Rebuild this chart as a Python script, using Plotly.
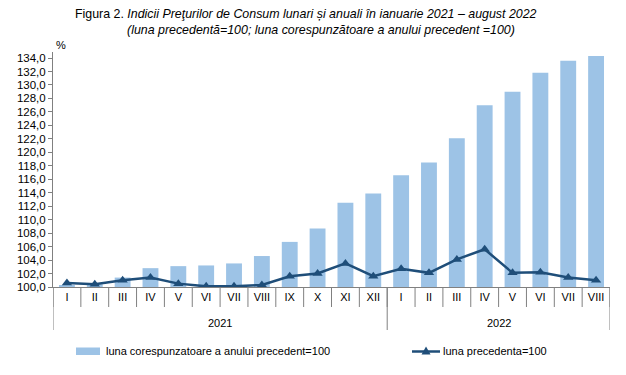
import plotly.graph_objects as go

months = ["I", "II", "III", "IV", "V", "VI", "VII", "VIII", "IX", "X", "XI", "XII",
          "I", "II", "III", "IV", "V", "VI", "VII", "VIII"]
years = ["2021", "2022"]
year_counts = [12, 8]
annual = [100.3, 100.4, 101.4, 102.8, 103.1, 103.2, 103.5, 104.6, 106.7, 108.7, 112.5, 113.9,
          116.6, 118.5, 122.1, 127.0, 129.0, 131.8, 133.6, 134.3]
monthly = [100.6, 100.4, 101.0, 101.4, 100.5, 100.1, 100.1, 100.3, 101.6, 102.0, 103.5, 101.6,
           102.7, 102.1, 104.1, 105.6, 102.1, 102.2, 101.4, 101.0]
y_ticks = [100 + 2 * i for i in range(18)]
name_bar = "luna corespunzatoare a anului precedent=100"
name_line = "luna precedenta=100"

x = list(range(len(months)))
FONT = "Liberation Sans, Arial, sans-serif"
GRID = "#808080"
BAR_C = "#9DC3E6"
LINE_C = "#1F4E79"

W, H = 626, 375
L, R, T, B = 53, 16, 52, 88
PW, PH = W - L - R, H - T - B


def px(xp):
    return (xp - L) / PW


def py(yp):
    return (H - B - yp) / PH


fig = go.Figure()
fig.add_trace(go.Bar(
    x=x, y=[v - 100 for v in annual], base=100,
    marker=dict(color=BAR_C, line=dict(width=0)),
    name=name_bar, showlegend=False,
))
fig.add_trace(go.Scatter(
    x=x, y=monthly, mode="lines+markers",
    line=dict(color=LINE_C, width=2.5),
    marker=dict(symbol="triangle-up", size=9, color=LINE_C),
    name=name_line, showlegend=False,
))

shapes = []
for i in range(len(months) + 1):
    shapes.append(dict(type="line", xref="x", yref="paper",
                       x0=i - 0.5, x1=i - 0.5, y0=0, y1=py(307),
                       line=dict(color=GRID, width=1)))
pos = -0.5
for c in [0] + year_counts:
    pos += c
    shapes.append(dict(type="line", xref="x", yref="paper",
                       x0=pos, x1=pos, y0=0, y1=py(330),
                       line=dict(color=GRID, width=1)))

# legend drawn manually
shapes.append(dict(type="rect", xref="paper", yref="paper",
                   x0=px(76), x1=px(100), y0=py(347.5), y1=py(355),
                   fillcolor=BAR_C, line=dict(width=0)))
shapes.append(dict(type="line", xref="paper", yref="paper",
                   x0=px(412), x1=px(440), y0=py(351.5), y1=py(351.5),
                   line=dict(color=LINE_C, width=2.5)))
tx, ty = 426, 351.5
shapes.append(dict(type="path", xref="paper", yref="paper",
                   path=f"M {px(tx-4.5)},{py(ty+3)} L {px(tx+4.5)},{py(ty+3)} L {px(tx)},{py(ty-5)} Z",
                   fillcolor=LINE_C, line=dict(color=LINE_C, width=0)))

annotations = []
start = 0
for yr, c in zip(years, year_counts):
    annotations.append(dict(x=start + (c - 1) / 2, y=py(323), xref="x", yref="paper",
                            text=yr, showarrow=False, yanchor="middle",
                            font=dict(family=FONT, size=11, color="#000")))
    start += c

annotations += [
    dict(x=px(104), y=py(351), xref="paper", yref="paper", xanchor="left", yanchor="middle",
         showarrow=False, text=name_bar, font=dict(family=FONT, size=11, color="#000")),
    dict(x=px(441), y=py(351), xref="paper", yref="paper", xanchor="left", yanchor="middle",
         showarrow=False, text=name_line, font=dict(family=FONT, size=11, color="#000")),
    dict(x=px(306), y=py(14), xref="paper", yref="paper", yanchor="middle",
         xanchor="center", showarrow=False,
         text="Figura 2. <i>Indicii Preţurilor de Consum lunari și anuali în ianuarie 2021 – august 2022</i>",
         font=dict(family=FONT, size=12.4, color="#000")),
    dict(x=px(321), y=py(30), xref="paper", yref="paper", yanchor="middle",
         xanchor="center", showarrow=False,
         text="<i>(luna precedentă=100; luna corespunzătoare a anului precedent =100)</i>",
         font=dict(family=FONT, size=12.4, color="#000")),
    dict(x=px(61), y=py(45), xref="paper", yref="paper", yanchor="middle",
         xanchor="center", showarrow=False, text="%",
         font=dict(family=FONT, size=11, color="#000")),
]

fig.update_layout(
    width=W, height=H,
    margin=dict(l=L, r=R, t=T, b=B, autoexpand=False),
    paper_bgcolor="white", plot_bgcolor="white",
    separators=", ",
    bargap=0.43,
    showlegend=False,
    hovermode=False,
    font=dict(family=FONT, size=11, color="#000"),
    shapes=shapes,
    annotations=annotations,
    xaxis=dict(
        range=[-0.5, len(months) - 0.5], automargin=False,
        tickmode="array", tickvals=x, ticktext=months,
        showline=True, linecolor=GRID, linewidth=1,
        ticks="", showgrid=False, zeroline=False,
        tickfont=dict(family=FONT, size=11),
    ),
    yaxis=dict(
        range=[100, 134.9], automargin=False,
        tickmode="array", tickvals=y_ticks, tickformat=".1f",
        showline=True, linecolor=GRID, linewidth=1,
        ticks="outside", ticklen=4, tickcolor=GRID,
        showgrid=False, zeroline=False,
        tickfont=dict(family=FONT, size=11.5),
    ),
)

fig.write_html("out.html", config={"displayModeBar": False},
               post_script="document.body.style.margin='0px';document.body.style.overflow='hidden';")
